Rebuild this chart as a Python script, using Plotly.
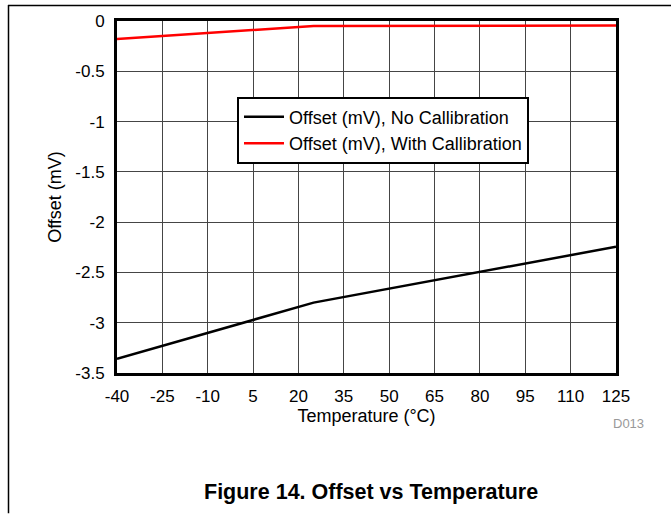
import plotly.graph_objects as go

temp_no_cal = [-40, 25, 125]
offset_no_cal = [-3.36, -2.80, -2.245]
temp_cal = [-40, 25, 125]
offset_cal = [-0.18, -0.05, -0.045]
x_ticks = [-40, -25, -10, 5, 20, 35, 50, 65, 80, 95, 110, 125]
y_ticks = [0, -0.5, -1, -1.5, -2, -2.5, -3, -3.5]
y_tick_text = ["0", "-0.5", "-1", "-1.5", "-2", "-2.5", "-3", "-3.5"]

W, H = 671, 514
L, R, T, B = 117, 616, 19, 373

fig = go.Figure()
fig.add_trace(go.Scatter(x=temp_no_cal, y=offset_no_cal, mode="lines",
                         name="Offset (mV), No Callibration",
                         line=dict(color="black", width=2.5)))
fig.add_trace(go.Scatter(x=temp_cal, y=offset_cal, mode="lines",
                         name="Offset (mV), With Callibration",
                         line=dict(color="#ff0000", width=2.5)))

def px2x(px):
    return (px - L) / (R - L)

def py2y(py):
    return (B - py) / (B - T)

font = "Liberation Sans, Arial, sans-serif"
fig.update_layout(
    width=W, height=H,
    margin=dict(l=L, r=W - R, t=T, b=H - B),
    paper_bgcolor="white", plot_bgcolor="white",
    font=dict(family=font, size=17, color="black"),
    showlegend=True,
    legend=dict(x=px2x(237), y=py2y(95), xanchor="left", yanchor="top",
                bordercolor="black", borderwidth=2, bgcolor="white",
                font=dict(size=18), itemwidth=40, tracegroupgap=0),
    xaxis=dict(range=[-40, 125], tickvals=x_ticks, ticktext=[str(v) for v in x_ticks],
               showgrid=True, gridcolor="#454545", gridwidth=1,
               showline=True, linecolor="black", linewidth=3, mirror=True,
               ticks="", zeroline=False, ticklabelstandoff=6,
               tickfont=dict(size=17),
               title=dict(text="Temperature (°C)", standoff=4, font=dict(size=18))),
    yaxis=dict(range=[-3.5, 0], tickvals=y_ticks, ticktext=y_tick_text,
               showgrid=True, gridcolor="#454545", gridwidth=1,
               showline=True, linecolor="black", linewidth=3, mirror=True,
               ticks="", zeroline=False, ticklabelstandoff=6,
               tickfont=dict(size=17),
               title=dict(text="Offset (mV)", standoff=10, font=dict(size=18))),
    shapes=[
        dict(type="line", xref="paper", yref="paper", x0=px2x(8), x1=px2x(671),
             y0=py2y(3.5), y1=py2y(3.5), line=dict(color="black", width=1.5)),
        dict(type="line", xref="paper", yref="paper", x0=px2x(8.5), x1=px2x(8.5),
             y0=py2y(3), y1=py2y(514), line=dict(color="black", width=1.5)),
    ],
    annotations=[
        dict(text="D013", xref="paper", yref="paper", x=px2x(628), y=py2y(424),
             showarrow=False, font=dict(size=13, color="#999999"),
             xanchor="center", yanchor="middle"),
        dict(text="<b>Figure 14. Offset vs Temperature</b>", xref="paper", yref="paper",
             x=px2x(371), y=py2y(493), showarrow=False,
             font=dict(size=21.5, color="black"), xanchor="center", yanchor="middle"),
    ],
)

fig.write_html("out.html", post_script="document.body.style.margin='0px';",
               config={"displayModeBar": False})
